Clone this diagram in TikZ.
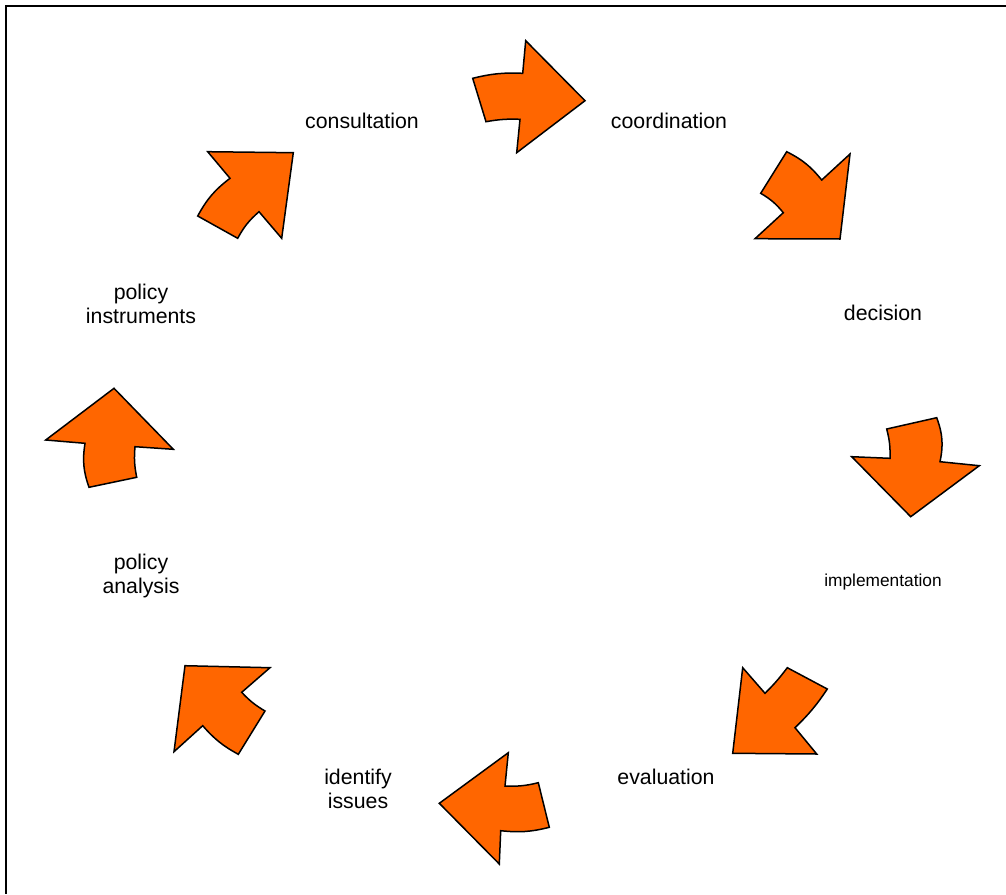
\documentclass[tikz,border=0pt]{standalone}
\usepackage{fontspec}
\setmainfont{Liberation Sans}
\definecolor{arroworange}{HTML}{FF6600}
\begin{document}
\begin{tikzpicture}[x=1pt,y=-1pt,
  blockarrow/.style={draw=black, fill=arroworange, line width=1.5pt, line join=miter},
  lbl/.style={font=\fontsize{21.3}{24}\selectfont, align=center, inner sep=0pt},
  smalllbl/.style={font=\fontsize{17.3}{20}\selectfont, align=center, inner sep=0pt},
  frameline/.style={draw=black, line width=2pt}]
\useasboundingbox (0,0) rectangle (1006,894);
% frame (top and left edges only)
\coordinate (ftr) at (1006,5.5);
\coordinate (ftl) at (6,5.5);
\coordinate (fbl) at (6,894);
\draw[frameline] (ftr) -- (ftl) -- (fbl);

% labels
\node[lbl] (consultation) at (362,121) {consultation};
\node[lbl] (coordination) at (669,121) {coordination};
\node[lbl] (decision) at (883,313) {decision};
\node[smalllbl] (implementation) at (883,582) {implementation};
\node[lbl] (evaluation) at (666,777) {evaluation};
\node[lbl] (identify) at (358,789) {identify\\issues};
\node[lbl] (analysis) at (141,576) {policy\\analysis};
\node[lbl] (instruments) at (141,304) {policy\\instruments};

% arrow 1: consultation -> coordination
\draw[blockarrow] (472.7,78.3) to[bend left=8] (522.7,73.3) -- (525.7,40.7) -- (585,100.7)
  -- (516.7,152.7) -- (520,119.3) to[bend right=6] (486,121.7) -- cycle;
% arrow 2: coordination -> decision
\draw[blockarrow] (786.7,151.7) to[bend left=12] (821.7,180) -- (850,154) -- (840,239)
  -- (755,238.7) -- (783.3,212.7) to[bend right=10] (760.7,193.3) -- cycle;
% arrow 3: decision -> implementation
\draw[blockarrow] (936.7,417.7) to[bend left=16] (940,461.7) -- (979.3,465.7) -- (910.7,516.7)
  -- (851.7,456.7) -- (890,458.3) to[bend right=8] (886.7,429) -- cycle;
% arrow 4: implementation -> evaluation
\draw[blockarrow] (827.3,689) to[bend left=6] (795,727.7) -- (816.7,754) -- (732.7,753.3)
  -- (742.7,667.7) -- (765,693.3) to[bend right=4] (787.3,667.7) -- cycle;
% arrow 5: evaluation -> identify issues
\draw[blockarrow] (549.3,827.3) to[bend left=10] (500.7,830.7) -- (499.3,864) -- (439.3,803.3)
  -- (508.3,752.7) -- (505,786) to[bend right=8] (538.3,782.7) -- cycle;
% arrow 6: identify issues -> policy analysis
\draw[blockarrow] (238.3,754.3) to[bend left=10] (202.7,725.7) -- (174,751.7) -- (185,665.7)
  -- (270,667.7) -- (241.7,692.3) to[bend right=8] (265,711) -- cycle;
% arrow 7: policy analysis -> policy instruments
\draw[blockarrow] (89,487.3) to[bend left=14] (85,443.3) -- (45.7,440) -- (114,388.3)
  -- (173.3,449.3) -- (135,446.7) to[bend right=8] (136.7,477.3) -- cycle;
% arrow 8: policy instruments -> consultation
\draw[blockarrow] (197.7,216) to[bend left=12] (230,178.3) -- (207.7,151.7) -- (293.3,152.7)
  -- (281.7,238.3) -- (259,211.7) to[bend right=10] (237.7,238.3) -- cycle;
\end{tikzpicture}
\end{document}
